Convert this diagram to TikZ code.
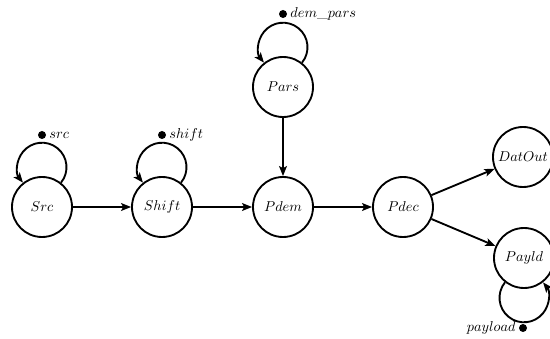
\documentclass[tikz,border=0pt]{standalone}
\usetikzlibrary{arrows.meta}
\begin{document}
\begin{tikzpicture}[x=0.7pt,y=-0.7pt,
  statenode/.style={circle,draw,line width=1.3pt,minimum size=42pt,inner sep=0pt},
  conn/.style={line width=1.3pt,-{Stealth[length=7pt,width=5.5pt,inset=1.5pt]}},
  selfloop/.style={conn,radius=17.15pt},
  dotnode/.style={circle,fill,inner sep=0pt,minimum size=5.6pt}]
\useasboundingbox (0,0) rectangle (550,339);
\node[statenode] (src) at (42,207) {$Src$};
\node[statenode] (shift) at (162,207) {$Shift$};
\node[statenode] (pdem) at (283,207) {$Pdem$};
\node[statenode] (pdec) at (403,207) {$Pdec$};
\node[statenode] (pars) at (283,87) {$Pars$};
\node[statenode] (datout) at (523,157) {$DatOut$};
\node[statenode] (payld) at (524,258) {$Payld$};
\node[dotnode,label={[inner sep=2pt]right:$src$}] (dsrc) at (42,135) {};
\node[dotnode,label={[inner sep=2pt]right:$shift$}] (dshift) at (162,135) {};
\node[dotnode,label={[inner sep=2pt]right:$dem\_pars$}] (dpars) at (283,14) {};
\node[dotnode,label={[inner sep=2pt]left:$payload$}] (dpay) at (523,328) {};
\draw[conn] (src) -- (shift);
\draw[conn] (shift) -- (pdem);
\draw[conn] (pdem) -- (pdec);
\draw[conn] (pars) -- (pdem);
\draw[conn] (pdec) -- (datout);
\draw[conn] (pdec) -- (payld);
\draw[selfloop] (src.52) arc[start angle=-39,end angle=219];
\draw[selfloop] (shift.52) arc[start angle=-39,end angle=219];
\draw[selfloop] (pars.52) arc[start angle=-39,end angle=219];
\draw[selfloop] (payld.-128) arc[start angle=141,end angle=399];
\end{tikzpicture}
\end{document}
